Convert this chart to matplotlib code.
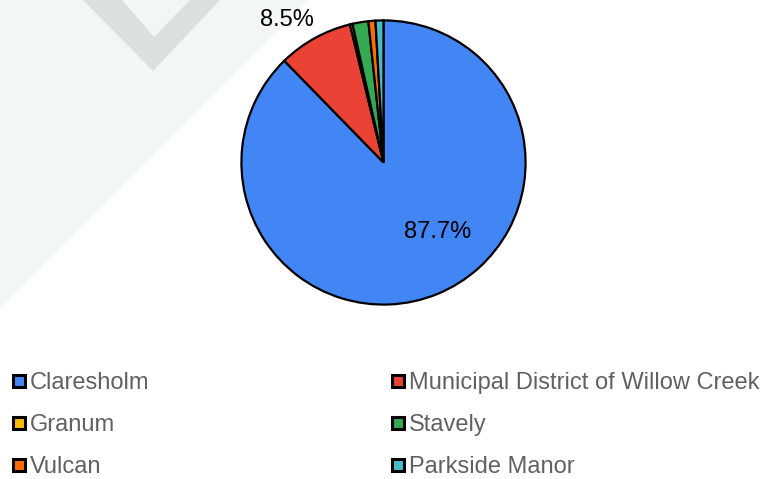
import matplotlib
matplotlib.use('Agg')
import matplotlib.pyplot as plt
from matplotlib.patches import Polygon, Rectangle

plt.rcParams['font.family'] = ['Liberation Sans', 'DejaVu Sans']

# data
names = ['Claresholm', 'Municipal District of Willow Creek', 'Granum',
         'Stavely', 'Vulcan', 'Parkside Manor']
shares = [87.7, 8.5, 0.3, 1.8, 0.8, 0.9]
colors = ['#4285f4', '#ea4335', '#fbbc04', '#34a853', '#ff6d01', '#46bdc6']

W, H = 766, 479
fig = plt.figure(figsize=(W / 100, H / 100), dpi=100)
fig.patch.set_facecolor('white')

def px(x, y):
    return (x / W, 1 - y / H)

# faint watermark in background
fig.patches.append(Polygon([px(0, 0), px(309, 0), px(0, 309)], closed=True,
                           transform=fig.transFigure, facecolor='#f3f7f4',
                           edgecolor='none', zorder=-2))
fig.patches.append(Polygon([px(83, 0), px(122, 0), px(154, 37), px(190, 0),
                            px(220, 0), px(153, 71)], closed=True,
                           transform=fig.transFigure, facecolor='#dce0dd',
                           edgecolor='none', zorder=-1))

# pie
ax = fig.add_axes([240 / W, 1 - 306 / H, 287 / W, 287 / H])
ax.set_facecolor('none')
ax.set_zorder(2)
wedges, _ = ax.pie(shares, colors=colors, startangle=90, counterclock=False,
                   radius=1.0, wedgeprops=dict(edgecolor='black', linewidth=1.6))
ax.set_xlim(-1.01, 1.01)
ax.set_ylim(-1.01, 1.01)
ax.set_aspect('equal')
ax.axis('off')

total = sum(shares)
label_pos = {0: (0.383, -0.487), 1: (-0.68, 1.0)}
for i, (x, y) in label_pos.items():
    ax.text(x, y, '%.1f%%' % (100 * shares[i] / total), ha='center',
            va='center', fontsize=17, color='black', clip_on=False)

# legend, two columns filled row by row
col_x = [12, 391]
row_base = [389, 431, 473]
for i, name in enumerate(names):
    cx = col_x[i % 2]
    by = row_base[i // 2]
    x0, y0 = px(cx + 1, by - 8 + 6)
    fig.patches.append(Rectangle((x0, y0), 12 / W, 12 / H,
                                 transform=fig.transFigure,
                                 facecolor=colors[i], edgecolor='black',
                                 linewidth=2.2, zorder=3))
    fig.text((cx + 18) / W, 1 - by / H, name, fontsize=17, color='#616161',
             ha='left', va='baseline')

fig.savefig('out.png', dpi=100)
